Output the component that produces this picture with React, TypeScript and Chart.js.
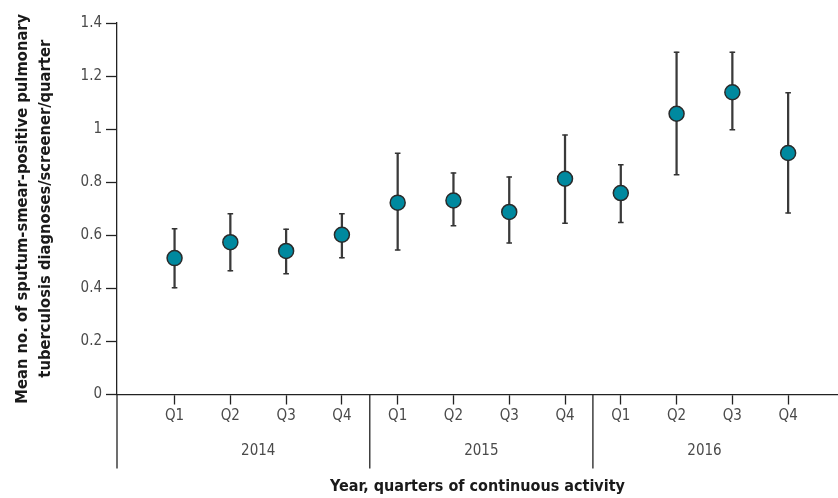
import React, { useEffect, useRef } from "react";
import { Chart, registerables } from "chart.js";

Chart.register(...registerables);

// ---- data ----
const quarterLabels = ["Q1", "Q2", "Q3", "Q4", "Q1", "Q2", "Q3", "Q4", "Q1", "Q2", "Q3", "Q4"];
const quarterPositions = [0, 1, 2, 3, 4, 5, 6, 7, 8, 9, 10, 11];
const yearLabels = ["2014", "2015", "2016"];
const yearCenters = [1.5, 5.5, 9.5];
const yearSeparators = [3.5, 7.5];
const meanValues = [0.514, 0.574, 0.541, 0.602, 0.723, 0.731, 0.688, 0.813, 0.759, 1.058, 1.139, 0.91];
const lowerValues = [0.402, 0.466, 0.455, 0.515, 0.545, 0.636, 0.571, 0.645, 0.648, 0.828, 0.998, 0.684];
const upperValues = [0.625, 0.681, 0.623, 0.681, 0.909, 0.835, 0.82, 0.978, 0.866, 1.29, 1.29, 1.137];
const yTickValues = [0, 0.2, 0.4, 0.6, 0.8, 1, 1.2, 1.4];
const yTickLabels = ["0", "0.2", "0.4", "0.6", "0.8", "1", "1.2", "1.4"];
const yTitle = ["Mean no. of sputum-smear-positive pulmonary", "tuberculosis diagnoses/screener/quarter"];
const xTitle = "Year, quarters of continuous activity";

const NARROW = '"Liberation Sans Narrow", "DejaVu Sans Condensed", sans-serif';
const AXIS = "#222222";
const TICK_COLOR = "#4a4a4a";
const X_MIN = -1.032;
const X_MAX = 11.894;

const separatorPlugin = {
  id: "yearSeparators",
  afterDraw(chart: any) {
    const x = chart.scales.x;
    const y = chart.scales.y;
    const ctx = chart.ctx;
    const top = y.bottom;
    const bottom = top + 74;
    ctx.save();
    ctx.strokeStyle = AXIS;
    ctx.lineWidth = 1.3;
    ctx.beginPath();
    const xs = [x.left, ...yearSeparators.map((v) => x.getPixelForValue(v))];
    xs.forEach((px) => {
      ctx.moveTo(px, top);
      ctx.lineTo(px, bottom);
    });
    ctx.stroke();
    ctx.restore();
  },
};

export default function App() {
  const ref = useRef<HTMLCanvasElement | null>(null);
  useEffect(() => {
    if (!ref.current) return;
    const chart = new Chart(ref.current, {
      type: "scatter",
      data: {
        datasets: [
          {
            type: "scatter",
            data: quarterPositions.map((x, i) => ({ x, y: meanValues[i] })),
            pointStyle: "circle",
            pointRadius: 7.5,
            pointBackgroundColor: "#00899f",
            pointBorderColor: "#2a2a2a",
            pointBorderWidth: 1.5,
            order: 0,
          },
          {
            type: "scatter",
            data: quarterPositions.map((x, i) => ({ x, y: lowerValues[i] })),
            pointStyle: "line",
            pointRadius: 2.8,
            pointBorderColor: "#333333",
            pointBorderWidth: 1.5,
            order: 1,
          },
          {
            type: "scatter",
            data: quarterPositions.map((x, i) => ({ x, y: upperValues[i] })),
            pointStyle: "line",
            pointRadius: 2.8,
            pointBorderColor: "#333333",
            pointBorderWidth: 1.5,
            order: 1,
          },
          {
            type: "bar",
            data: quarterPositions.map((x, i) => ({ x, y: [lowerValues[i], upperValues[i]] })) as any,
            backgroundColor: "#3a3a3a",
            borderWidth: 0,
            barThickness: 1.6,
            grouped: false,
            order: 2,
          } as any,
        ],
      },
      options: {
        animation: false,
        responsive: false,
        devicePixelRatio: 1,
        layout: { autoPadding: false, padding: { top: 23, right: 0, bottom: 0, left: 0 } },
        plugins: { legend: { display: false }, tooltip: { enabled: false } },
        scales: {
          x: {
            type: "linear",
            position: "bottom",
            weight: 0,
            offset: false,
            min: X_MIN,
            max: X_MAX,
            afterBuildTicks: (s: any) => {
              s.ticks = quarterPositions.map((v) => ({ value: v }));
            },
            afterFit: (s: any) => {
              s.height = 40;
              s.paddingLeft = 0;
              s.paddingRight = 0;
            },
            ticks: {
              autoSkip: false,
              maxRotation: 0,
              padding: 3,
              color: TICK_COLOR,
              font: { family: NARROW, size: 15 },
              callback: (_v: any, i: number) => quarterLabels[i],
            },
            grid: {
              offset: false,
              drawOnChartArea: false,
              drawTicks: true,
              tickLength: 10,
              tickColor: AXIS,
              tickWidth: 1.3,
            },
            border: { display: true, color: AXIS, width: 1.3 },
          },
          xYear: {
            type: "linear",
            position: "bottom",
            weight: 1,
            offset: false,
            min: X_MIN,
            max: X_MAX,
            afterBuildTicks: (s: any) => {
              s.ticks = yearCenters.map((v) => ({ value: v }));
            },
            afterFit: (s: any) => {
              s.height = 63.5;
              s.paddingLeft = 0;
              s.paddingRight = 0;
            },
            ticks: {
              autoSkip: false,
              maxRotation: 0,
              padding: 8,
              color: TICK_COLOR,
              font: { family: NARROW, size: 15 },
              callback: (_v: any, i: number) => yearLabels[i],
            },
            grid: { display: false, drawTicks: false, offset: false },
            border: { display: false },
            title: {
              display: true,
              text: xTitle,
              color: "#1a1a1a",
              font: { family: NARROW, size: 16, weight: "bold", lineHeight: 1.2 },
              padding: { top: 0, bottom: 2 },
            },
          },
          y: {
            type: "linear",
            position: "left",
            min: 0,
            max: 1.4,
            afterBuildTicks: (s: any) => {
              s.ticks = yTickValues.map((v) => ({ value: v }));
            },
            afterFit: (s: any) => {
              s.width = 117;
            },
            ticks: {
              padding: 4,
              color: TICK_COLOR,
              font: { family: NARROW, size: 15 },
              callback: (_v: any, i: number) => yTickLabels[i],
            },
            grid: {
              drawOnChartArea: false,
              drawTicks: true,
              tickLength: 11,
              tickColor: AXIS,
              tickWidth: 1.3,
            },
            border: { display: true, color: AXIS, width: 1.3 },
            title: {
              display: true,
              text: yTitle,
              color: "#1a1a1a",
              font: { family: NARROW, size: 16.4, weight: "bold", lineHeight: 1.4 },
              padding: { top: 11, bottom: 0 },
            },
          },
        },
      } as any,
      plugins: [separatorPlugin],
    });
    return () => chart.destroy();
  }, []);
  return (
    <div style={{ position: "absolute", left: 0, top: 0, width: 838, height: 498, background: "#fff" }}>
      <canvas ref={ref} width={838} height={498} style={{ display: "block" }} />
    </div>
  );
}
